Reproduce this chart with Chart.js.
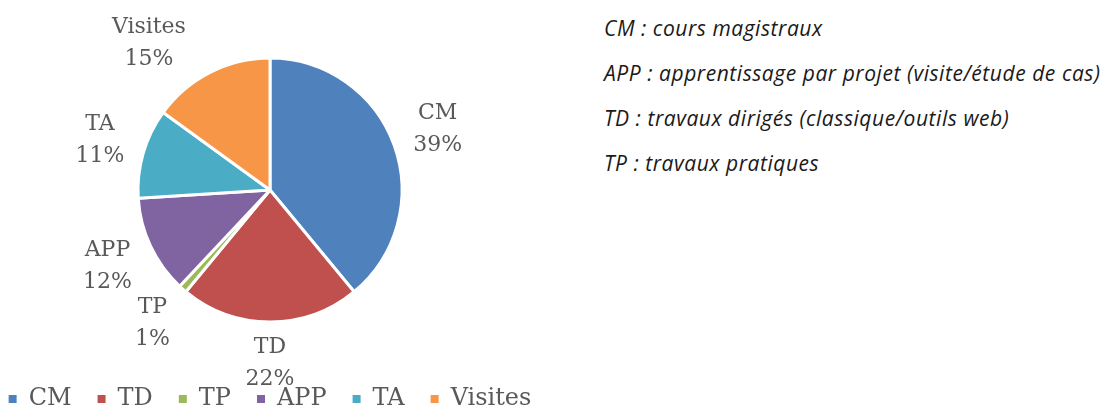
<!DOCTYPE html>
<html><head><meta charset="utf-8">
<script src="https://cdn.jsdelivr.net/npm/chart.js@4"></script>
<style>
html,body{margin:0;padding:0;background:#fff;width:1104px;height:410px;overflow:hidden;}
#wrap{position:absolute;left:-30px;top:0;width:600px;height:421px;}
#notes{position:absolute;left:604px;top:0;font-family:"Open Sans",sans-serif;font-style:italic;font-size:21px;letter-spacing:0.55px;color:#1a1a1a;}
#notes div{position:absolute;left:0;white-space:nowrap;line-height:28px;}
</style></head>
<body>
<div id="wrap"><canvas id="c" width="600" height="421"></canvas></div>
<div id="notes"></div>
<script>
const categories = ["CM","TD","TP","APP","TA","Visites"];
const values = [39,22,1,12,11,15];
const colors = ["#4F81BD","#C0504D","#9BBB59","#8064A2","#4BACC6","#F79646"];
const notes = ["CM : cours magistraux","APP : apprentissage par projet (visite/étude de cas)","TD : travaux dirigés (classique/outils web)","TP : travaux pratiques"];

const notesEl = document.getElementById('notes');
notes.forEach((t,i)=>{const d=document.createElement('div');d.textContent=t;d.style.top=(14+i*45)+'px';notesEl.appendChild(d);});

const labelFont = '22px "DejaVu Serif", serif';
const labelPlugin = {
  id:'outLabels',
  afterDatasetsDraw(chart){
    const ctx = chart.ctx;
    const meta = chart.getDatasetMeta(0);
    const total = values.reduce((a,b)=>a+b,0);
    ctx.save();
    ctx.font = labelFont;
    ctx.fillStyle = '#595959';
    ctx.textAlign = 'center';
    ctx.textBaseline = 'middle';
    const halfH = 27, gap = 15, minTop = 16;
    meta.data.forEach((arc,i)=>{
      const p = arc.getProps(['x','y','startAngle','endAngle','outerRadius'],true);
      const l1 = categories[i], l2 = Math.round(values[i]/total*100)+'%';
      const w = Math.max(ctx.measureText(l1).width, ctx.measureText(l2).width)/2;
      let a = (p.startAngle+p.endAngle)/2;
      const pos = ang => {
        const d = p.outerRadius - 1 + gap + Math.abs(Math.cos(ang))*w + Math.abs(Math.sin(ang))*halfH;
        return [p.x + Math.cos(ang)*d, p.y + Math.sin(ang)*d];
      };
      let [cx,cy] = pos(a);
      let guard = 0;
      while (cy - halfH < minTop && guard++ < 200) {
        a += (Math.cos(a) < 0 ? -1 : 1) * Math.PI/360;
        [cx,cy] = pos(a);
      }
      ctx.fillText(l1, cx, cy-16);
      ctx.fillText(l2, cx, cy+16);
    });
    ctx.restore();
  }
};

new Chart(document.getElementById('c'),{
  type:'pie',
  data:{labels:categories,datasets:[{data:values,backgroundColor:colors,borderColor:'#fff',borderWidth:3,radius:132}]},
  options:{
    responsive:false,animation:false,
    layout:{padding:{top:19,bottom:0,left:0,right:0}},
    plugins:{
      tooltip:{enabled:false},
      legend:{position:'bottom',labels:{
        boxWidth:8,boxHeight:8,color:'#595959',font:{family:'"DejaVu Serif", serif',size:24},padding:26,
        generateLabels(chart){
          return Chart.controllers.pie.overrides.plugins.legend.labels.generateLabels(chart).map(l=>Object.assign(l,{lineWidth:0,strokeStyle:l.fillStyle}));
        }
      }}
    }
  },
  plugins:[labelPlugin]
});
</script>
</body></html>
